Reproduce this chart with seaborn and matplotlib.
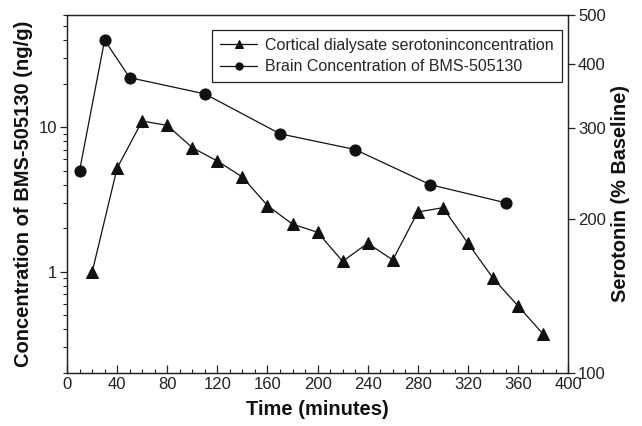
import matplotlib
matplotlib.use("Agg")
import matplotlib.pyplot as plt
import seaborn as sns
import numpy as np
from matplotlib.ticker import FixedLocator, NullFormatter, LogLocator, MultipleLocator

# Data
brain_time = [10, 30, 50, 110, 170, 230, 290, 350]
brain_conc = [5.0, 40, 22, 17, 9.0, 7.0, 4.0, 3.0]

sero_time = [20, 40, 60, 80, 100, 120, 140, 160, 180, 200, 220, 240, 260, 280, 300, 320, 340, 360, 380]
sero_pct = [157, 251, 310, 304, 275, 259, 241, 212, 195, 188, 165, 179, 166, 206, 210, 179, 153, 135, 119]

left_ticks = [1, 10]
right_ticks = [100, 200, 300, 400, 500]
x_ticks = list(range(0, 401, 40))

sns.set_theme(style="ticks")
plt.rcParams['font.family'] = ['Liberation Sans', 'DejaVu Sans']

fig = plt.figure(figsize=(6.42, 4.26), dpi=100)
ax = fig.add_axes([0.1044, 0.125, 0.7806, 0.8405])
ax2 = ax.twinx()

ax2.set_yscale('log')
ax.set_yscale('log')

sns.lineplot(x=sero_time, y=sero_pct, ax=ax2, color='#111111', marker='^', markersize=8,
             markeredgecolor='#111111', linewidth=0.9, label='Cortical dialysate serotoninconcentration', legend=False)
sns.lineplot(x=brain_time, y=brain_conc, ax=ax, color='#111111', marker='o', markersize=8,
             markeredgecolor='#111111', linewidth=0.9, label='Brain Concentration of BMS-505130', legend=False)

ax.set_xlim(0, 400)
ax.set_ylim(0.2, 60)
ax2.set_ylim(100, 500)

ax.set_xticks(x_ticks)
ax.set_xticklabels([str(t) for t in x_ticks])
ax.xaxis.set_minor_locator(MultipleLocator(10))

ax.yaxis.set_major_locator(FixedLocator(left_ticks))
ax.set_yticklabels([str(t) for t in left_ticks])
ax.yaxis.set_minor_locator(LogLocator(base=10, subs=np.arange(2, 10) * 1.0))
ax.yaxis.set_minor_formatter(NullFormatter())

ax2.yaxis.set_major_locator(FixedLocator(right_ticks))
ax2.set_yticklabels([str(t) for t in right_ticks])
ax2.yaxis.set_minor_locator(FixedLocator([]))
ax2.yaxis.set_minor_formatter(NullFormatter())

for a in (ax, ax2):
    for s in a.spines.values():
        s.set_visible(True)
        s.set_color('#222222')
        s.set_linewidth(0.9)

ax.tick_params(axis='x', which='major', direction='in', length=6, width=0.9, labelsize=12, colors='#222222', pad=3)
ax.tick_params(axis='x', which='minor', direction='in', length=3, width=0.8, colors='#222222')
ax.tick_params(axis='y', which='major', direction='out', length=5, width=0.9, labelsize=12, colors='#222222', pad=2)
ax.tick_params(axis='y', which='minor', direction='out', length=3, width=0.8, colors='#222222')
ax2.tick_params(axis='y', which='major', direction='out', length=5, width=0.9, labelsize=12, colors='#222222', pad=2)

ax.set_xlabel('Time (minutes)', fontsize=14.5, fontweight='bold', labelpad=6, color='#111111')
ax.set_ylabel('Concentration of BMS-505130 (ng/g)', fontsize=14.5, fontweight='bold', labelpad=4, color='#111111')
ax2.set_ylabel('Serotonin (% Baseline)', fontsize=14.3, fontweight='bold', labelpad=4, color='#111111')

h1, l1 = ax2.get_legend_handles_labels()
h2, l2 = ax.get_legend_handles_labels()
leg = ax2.legend(h1 + h2, l1 + l2, loc='upper right', bbox_to_anchor=(0.987, 0.957),
                 fontsize=11.5, frameon=True, fancybox=False, framealpha=1,
                 edgecolor='#222222', handlelength=2.3, borderpad=0.5, labelspacing=0.4,
                 handletextpad=0.5, borderaxespad=0, markerscale=0.65)
leg.get_frame().set_linewidth(0.9)

fig.savefig('out.png', dpi=100)
